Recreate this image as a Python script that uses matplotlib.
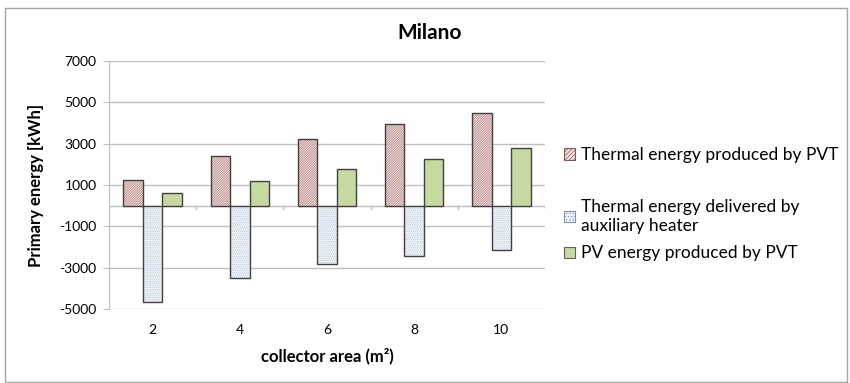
"""Primary energy balance of a PVT system in Milano vs. collector area."""
import numpy as np
import matplotlib
matplotlib.use("Agg")
import matplotlib.pyplot as plt
from matplotlib.patches import Rectangle, Patch

plt.rcParams["font.family"] = ["Lato", "DejaVu Sans"]
plt.rcParams["hatch.linewidth"] = 0.5

# collector area (m2) and primary energy (kWh)
areas = ["2", "4", "6", "8", "10"]
thermal_pvt = [1250, 2380, 3230, 3950, 4480]
thermal_aux = [-4650, -3500, -2820, -2420, -2150]
pv_pvt = [600, 1190, 1760, 2270, 2800]

labels = ["Thermal energy produced by PVT",
          "Thermal energy delivered by\nauxiliary heater",
          "PV energy produced by PVT"]
yticks = [7000, 5000, 3000, 1000, -1000, -3000, -5000]

W, H = 850, 383
fig = plt.figure(figsize=(W / 100, H / 100), dpi=100)
ax = fig.add_axes([109 / W, 1 - 309 / H, (545 - 109) / W, (309 - 61) / H])

x = np.arange(len(areas))
bw = 0.224
grid_c = "#bfbfbf"
edge_c = "#404040"
red_hatch = "/" * 14
blue_hatch = "." * 8

# fill + hatch layers, outlines drawn on top
ax.bar(x - bw, thermal_pvt, bw, color="#f3e2e1", lw=0, zorder=3)
ax.bar(x - bw, thermal_pvt, bw, color="none", edgecolor="#b07e7c", lw=0,
       hatch=red_hatch, zorder=3)
ax.bar(x, thermal_aux, bw, color="#f0f4f9", lw=0, zorder=3)
ax.bar(x, thermal_aux, bw, color="none", edgecolor="#b3c3d6", lw=0,
       hatch=blue_hatch, zorder=3)
ax.bar(x - bw, thermal_pvt, bw, color="none", edgecolor=edge_c, lw=1.0, zorder=4)
ax.bar(x, thermal_aux, bw, color="none", edgecolor=edge_c, lw=1.0, zorder=4)
ax.bar(x + bw, pv_pvt, bw, color="#c6d9a0", edgecolor=edge_c, lw=1.0, zorder=3)

ax.set_xlim(-0.5, len(areas) - 0.5)
ax.set_ylim(-5000, 7000)
ax.set_yticks(yticks)
ax.set_yticklabels([str(v) for v in yticks], fontsize=10)
for v in yticks:
    ax.axhline(v, color=grid_c, lw=1.0, zorder=1)

# category axis sits at zero with ticks between groups
ax.axhline(0, color=grid_c, lw=1.0, zorder=2)
for b in np.arange(0.5, len(areas), 1.0):
    ax.plot([b, b], [0, -180], color=grid_c, lw=1.0, zorder=2)

ax.set_xticks(x)
ax.set_xticklabels(areas, fontsize=10)
ax.tick_params(axis="x", length=0, pad=11)
ax.tick_params(axis="y", length=4, color=grid_c, pad=5)
for s in ["top", "right", "bottom"]:
    ax.spines[s].set_visible(False)
ax.spines["left"].set_color(grid_c)

ax.set_ylabel("Primary energy [kWh]", fontsize=12, fontweight="bold", labelpad=11)
ax.set_xlabel("collector area (m\u00b2)", fontsize=12, fontweight="bold", labelpad=8)
fig.text(430 / W, 1 - 33 / H, "Milano", ha="center", va="center",
         fontsize=15, fontweight="bold")

# outer chart border
fig.add_artist(Rectangle((5 / W, 1 - 382 / H), 842 / W, 374 / H, transform=fig.transFigure,
                         fill=False, edgecolor="#a6a6a6", lw=1.0))

h_red = Patch(facecolor="#f3e2e1", edgecolor="#7f5a59", hatch="/" * 8, lw=0.8)
h_blue = Patch(facecolor="#f0f4f9", edgecolor="#8094b0", hatch="." * 5, lw=0.8)
h_green = Patch(facecolor="#c6d9a0", edgecolor="#606060", lw=0.8)
common = dict(frameon=False, fontsize=12.5, handlelength=0.65, handleheight=0.65,
              handletextpad=0.35, borderpad=0, borderaxespad=0)
fig.legend([h_red], [labels[0]], loc="center left",
           bbox_to_anchor=(564 / W, 1 - 155 / H), **common)
fig.legend([h_blue, h_green], labels[1:], loc="upper left", labelspacing=0.68,
           bbox_to_anchor=(564 / W, 1 - 199 / H), **common)

fig.savefig("out.png", dpi=100)
